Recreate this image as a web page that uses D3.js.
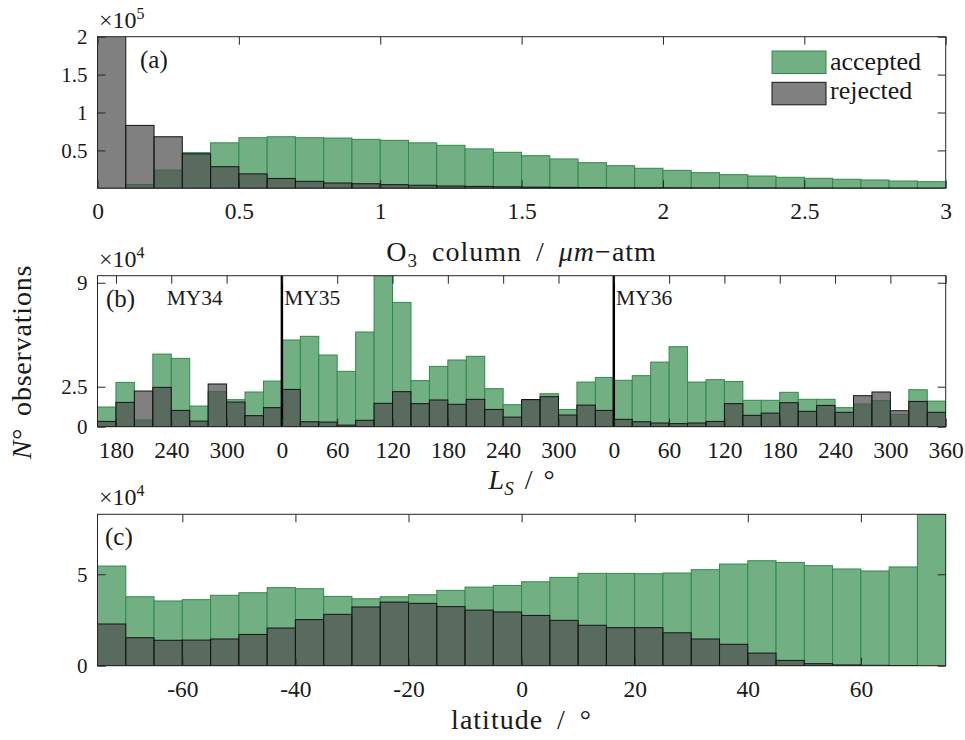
<!DOCTYPE html>
<html>
<head>
<meta charset="utf-8">
<script src="https://cdn.jsdelivr.net/npm/d3@7/dist/d3.min.js"></script>
<style>
  body { margin: 0; background: #ffffff; }
  text { font-family: "Liberation Serif", "Times New Roman", serif; fill: #1a1a1a; }
</style>
</head>
<body>
<svg id="chart" width="965" height="740"></svg>
<script>
// ---------- (a) ozone column histogram, counts in units of 1e5 ----------
const o3BinStarts = d3.range(30).map(i => i / 10);          // 0.0 … 2.9, width 0.1
const o3Accepted = [0.00, 0.05, 0.24, 0.47, 0.60, 0.667, 0.68, 0.667, 0.663, 0.646,
                    0.633, 0.60, 0.567, 0.52, 0.475, 0.43, 0.387, 0.338, 0.298, 0.264,
                    0.237, 0.206, 0.18, 0.162, 0.145, 0.132, 0.119, 0.11, 0.096, 0.087];
const o3Rejected = [2.60, 0.83, 0.68, 0.455, 0.285, 0.19, 0.13, 0.092, 0.07, 0.06,
                    0.048, 0.04, 0.03, 0.025, 0.02, 0.015, 0.012, 0.01, 0.008, 0.007,
                    0.006, 0.005, 0.004, 0.004, 0.003, 0.003, 0.002, 0.002, 0.002, 0.002];
const o3XTicks = [0, 0.5, 1, 1.5, 2, 2.5, 3];
const o3YTicks = [0.5, 1, 1.5, 2];

// ---------- (b) solar longitude histogram, counts in units of 1e4 ----------
// continuous Ls axis: MY34 Ls 160 → MY36 Ls 360 (Ls + 360·(MY−34))
const lsBinStarts = d3.range(46).map(i => 160 + 20 * i);
const lsAccepted = [
  // MY34
  1.23, 2.77, 0.42, 4.54, 4.27, 1.29, 2.19, 1.69, 2.17, 2.85,
  // MY35
  5.42, 5.65, 4.48, 3.46, 5.92, 9.44, 7.77, 2.88, 3.77, 4.17, 4.40, 2.375, 1.375, 1.65, 2.06, 1.08, 2.79, 3.08,
  // MY36
  2.90, 3.19, 4.04, 5.00, 2.79, 2.94, 2.83, 1.65, 1.65, 2.15, 1.71, 1.71, 1.19, 1.42, 1.63, 0.77, 2.31, 1.60];
const lsRejected = [
  // MY34
  0.33, 1.52, 2.23, 2.46, 1.02, 0.35, 2.67, 1.54, 0.69, 1.19,
  // MY35
  2.33, 0.31, 0.29, 0.10, 0.40, 1.46, 2.19, 1.44, 1.67, 1.40, 1.71, 1.08, 0.60, 1.70, 1.875, 0.73, 1.35, 1.02,
  // MY36
  0.46, 0.31, 0.23, 0.19, 0.23, 0.33, 1.44, 0.71, 0.85, 1.50, 0.96, 1.33, 0.90, 1.94, 2.17, 1.00, 1.58, 0.90];
const lsXTicks = [180, 240, 300, 360, 420, 480, 540, 600, 660, 720, 780, 840, 900, 960, 1020, 1080];
const lsXTickLabels = ["180", "240", "300", "0", "60", "120", "180", "240", "300", "0", "60", "120", "180", "240", "300", "360"];
const lsYTicks = [0, 2.5, 9];
const yearStarts = [360, 720];
const yearNames = ["MY34", "MY35", "MY36"];

// ---------- (c) latitude histogram, counts in units of 1e4 ----------
const latBinStarts = d3.range(30).map(i => -75 + 5 * i);
const latAccepted = [5.45, 3.77, 3.54, 3.61, 3.85, 3.99, 4.27, 4.21, 3.79, 3.66,
                     3.77, 3.88, 4.12, 4.30, 4.39, 4.59, 4.83, 5.05, 5.05, 5.03,
                     5.07, 5.25, 5.56, 5.74, 5.65, 5.47, 5.29, 5.18, 5.40, 8.28];
const latRejected = [2.28, 1.53, 1.39, 1.40, 1.46, 1.71, 2.06, 2.52, 2.81, 3.21,
                     3.48, 3.41, 3.23, 3.04, 2.94, 2.75, 2.48, 2.21, 2.08, 2.08,
                     1.80, 1.46, 1.17, 0.69, 0.29, 0.11, 0.04, 0.02, 0.01, 0.00];
const latXTicks = [-60, -40, -20, 0, 20, 40, 60];
const latYTicks = [0, 5];

const seriesNames = ["accepted", "rejected"];

// ---------- styling ----------
const ACC_FILL = "#72b084", ACC_EDGE = "#2f8a4b";
const REJ_FILL = "rgba(79,79,79,0.72)", REJ_EDGE = "#141414";
const AXIS = "#262626";
const X0 = 97.5, X1 = 945.7;
const plain = d => String(d);   // plain hyphen for negatives

const svg = d3.select("#chart");

function drawPanel(cfg) {
  const g = svg.append("g");
  const x = d3.scaleLinear().domain(cfg.xDomain).range([X0, X1]);
  const y = d3.scaleLinear().domain([0, cfg.yMax]).range([cfg.bottom, cfg.top]);

  const clipId = "clip-" + cfg.id;
  svg.append("clipPath").attr("id", clipId)
    .append("rect").attr("x", X0).attr("y", cfg.top)
    .attr("width", X1 - X0).attr("height", cfg.bottom - cfg.top);

  const bars = g.append("g").attr("clip-path", `url(#${clipId})`);
  const bin = (starts, vals) => starts.map((s, i) => ({ s, e: s + cfg.binWidth, v: vals[i] }));

  bars.selectAll("rect.acc").data(bin(cfg.binStarts, cfg.accepted)).join("rect")
    .attr("class", "acc")
    .attr("x", d => x(d.s)).attr("width", d => x(d.e) - x(d.s))
    .attr("y", d => y(d.v)).attr("height", d => y(0) - y(d.v))
    .attr("fill", ACC_FILL).attr("stroke", ACC_EDGE).attr("stroke-width", 1);

  bars.selectAll("rect.rej").data(bin(cfg.binStarts, cfg.rejected)).join("rect")
    .attr("class", "rej")
    .attr("x", d => x(d.s)).attr("width", d => x(d.e) - x(d.s))
    .attr("y", d => y(d.v)).attr("height", d => y(0) - y(d.v))
    .attr("fill", REJ_FILL).attr("stroke", REJ_EDGE).attr("stroke-width", 1);

  if (cfg.extra) cfg.extra(g, x, y);

  // axes with inward ticks on all four sides
  const bottomAxis = d3.axisBottom(x).tickValues(cfg.xTicks).tickSize(-8).tickPadding(14.5)
    .tickFormat((d, i) => cfg.xTickLabels ? cfg.xTickLabels[i] : plain(d));
  const topAxis = d3.axisTop(x).tickValues(cfg.xTicks).tickSize(-8).tickFormat("");
  const leftAxis = d3.axisLeft(y).tickValues(cfg.yTicks).tickSize(-8).tickPadding(10)
    .tickFormat(plain);
  const rightAxis = d3.axisRight(y).tickValues(cfg.yTicks).tickSize(-8).tickFormat("");

  const styleAxis = (sel, fontSize) => {
    sel.select(".domain").remove();
    sel.selectAll(".tick line").attr("stroke", AXIS).attr("stroke-width", 1);
    sel.selectAll(".tick text").attr("font-size", fontSize)
      .attr("font-family", '"Liberation Serif", serif').attr("fill", "#1a1a1a");
  };
  g.append("g").attr("transform", `translate(0,${cfg.bottom})`).call(bottomAxis).call(s => styleAxis(s, 23.5));
  g.append("g").attr("transform", `translate(0,${cfg.top})`).call(topAxis).call(s => styleAxis(s, 23.5));
  g.append("g").attr("transform", `translate(${X0},0)`).call(leftAxis).call(s => styleAxis(s, 21));
  g.append("g").attr("transform", `translate(${X1},0)`).call(rightAxis).call(s => styleAxis(s, 21));

  g.append("rect").attr("x", X0).attr("y", cfg.top)
    .attr("width", X1 - X0).attr("height", cfg.bottom - cfg.top)
    .attr("fill", "none").attr("stroke", AXIS).attr("stroke-width", 1);

  // axis multiplier
  const ex = g.append("text").attr("x", 99).attr("y", cfg.top - 9).attr("font-size", 24);
  ex.append("tspan").text("×10");
  ex.append("tspan").attr("dy", -9).attr("font-size", 16).text(cfg.exponent);

  // panel tag
  g.append("text").attr("x", cfg.tagX).attr("y", cfg.top + 31).attr("font-size", 25).text(cfg.tag);

  return { x, y, g };
}

// (a)
const pa = drawPanel({
  id: "a", tag: "(a)", tagX: 140, top: 36.7, bottom: 188.3, xDomain: [0, 3], yMax: 2,
  binStarts: o3BinStarts, binWidth: 0.1, accepted: o3Accepted, rejected: o3Rejected,
  xTicks: o3XTicks, yTicks: o3YTicks, exponent: "5"
});

// legend
const legend = pa.g.append("g");
[[ACC_FILL, ACC_EDGE], [REJ_FILL, REJ_EDGE]].forEach(([fill, edge], i) => {
  legend.append("rect").attr("x", 772).attr("y", 51 + i * 31.3).attr("width", 54).attr("height", 22.5)
    .attr("fill", fill).attr("stroke", edge).attr("stroke-width", 1);
  legend.append("text").attr("x", 830).attr("y", 70 + i * 29).attr("font-size", 26).text(seriesNames[i]);
});

// (b)
drawPanel({
  id: "b", tag: "(b)", tagX: 106, top: 275.7, bottom: 426.7, xDomain: [160, 1080], yMax: 9.44,
  binStarts: lsBinStarts, binWidth: 20, accepted: lsAccepted, rejected: lsRejected,
  xTicks: lsXTicks, xTickLabels: lsXTickLabels, yTicks: lsYTicks, exponent: "4",
  extra: (g, x, y) => {
    g.selectAll("line.year").data(yearStarts).join("line").attr("class", "year")
      .attr("x1", d => x(d)).attr("x2", d => x(d))
      .attr("y1", 275.7).attr("y2", 426.7)
      .attr("stroke", "#000").attr("stroke-width", 2.5);
    const labelPos = [235, 362.5, 722.5];
    g.selectAll("text.year").data(yearNames).join("text").attr("class", "year")
      .attr("x", (d, i) => x(labelPos[i])).attr("y", 305)
      .attr("font-size", 21.5).text(d => d);
  }
});

// (c)
drawPanel({
  id: "c", tag: "(c)", tagX: 105, top: 514.3, bottom: 665.7, xDomain: [-75, 75], yMax: 8.28,
  binStarts: latBinStarts, binWidth: 5, accepted: latAccepted, rejected: latRejected,
  xTicks: latXTicks, yTicks: latYTicks, exponent: "4"
});

// axis titles
const cx = (X0 + X1) / 2;
const t1 = svg.append("text").attr("x", cx).attr("y", 261).attr("text-anchor", "middle")
  .attr("font-size", 28).attr("letter-spacing", 1).attr("word-spacing", 6);
t1.append("tspan").text("O");
t1.append("tspan").attr("dy", 6).attr("font-size", 19).text("3");
t1.append("tspan").attr("dy", -6).text(" column / ");
t1.append("tspan").attr("font-style", "italic").text("μm");
t1.append("tspan").text("−atm");

const t2 = svg.append("text").attr("x", cx).attr("y", 489).attr("text-anchor", "middle")
  .attr("font-size", 28).attr("word-spacing", 4);
t2.append("tspan").attr("font-style", "italic").text("L");
t2.append("tspan").attr("dy", 6).attr("font-size", 19).attr("font-style", "italic").text("S");
t2.append("tspan").attr("dy", -6).text(" / °");

svg.append("text").attr("x", cx).attr("y", 729).attr("text-anchor", "middle")
  .attr("font-size", 28).attr("letter-spacing", 1).attr("word-spacing", 6).text("latitude / °");

const yl = svg.append("text").attr("transform", "translate(31,362) rotate(-90)")
  .attr("text-anchor", "middle").attr("font-size", 28).attr("letter-spacing", 0.8).attr("word-spacing", 4);
yl.append("tspan").attr("font-style", "italic").text("N");
yl.append("tspan").text("° observations");
</script>
</body>
</html>
